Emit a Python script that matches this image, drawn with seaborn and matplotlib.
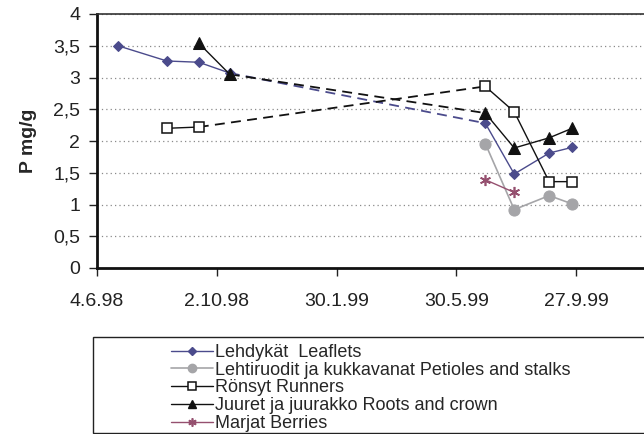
import matplotlib
matplotlib.use("Agg")
import matplotlib.pyplot as plt
import matplotlib.dates as mdates
from matplotlib.lines import Line2D
from matplotlib.patches import Rectangle
import pandas as pd
import seaborn as sns

# Sampling dates
dates_98 = ["1998-06-25", "1998-08-13", "1998-09-14", "1998-10-15"]
dates_99 = ["1999-06-28", "1999-07-27", "1999-08-31", "1999-09-23"]

# P content, mg/g
leaflets_98 = [3.50, 3.26, 3.24, 3.07]
leaflets_99 = [2.28, 1.48, 1.81, 1.90]
petioles_99 = [1.96, 0.92, 1.14, 1.01]
runners_98 = [2.20, 2.22]          # 13.8.98, 14.9.98
runners_99 = [2.86, 2.46, 1.36, 1.36]
roots_98 = [3.54, 3.05]            # 14.9.98, 15.10.98
roots_99 = [2.44, 1.89, 2.05, 2.20]
berries_99 = [1.39, 1.19]          # 28.6.99, 27.7.99

labels = [
    "Lehdykät  Leaflets",
    "Lehtiruodit ja kukkavanat Petioles and stalks",
    "Rönsyt Runners",
    "Juuret ja juurakko Roots and crown",
    "Marjat Berries",
]
x_ticks = ["1998-06-04", "1998-10-02", "1999-01-30", "1999-05-30", "1999-09-27"]
y_ticks = [0, 0.5, 1, 1.5, 2, 2.5, 3, 3.5, 4]
y_tick_labels = ["0", "0,5", "1", "1,5", "2", "2,5", "3", "3,5", "4"]

NAVY = "#4b4b8c"
GREY = "#a5a5a8"
BLACK = "#111111"
PLUM = "#95506f"

sns.set_style("white")
plt.rcParams["font.family"] = ["Liberation Sans", "DejaVu Sans"]

fig = plt.figure(figsize=(6.44, 4.34), dpi=100)
W, H = 644, 434
ax = fig.add_axes([97 / W, (H - 268) / H, (W - 97) / W, 254 / H])

styles = {
    "leaf": dict(color=NAVY, marker="D", markersize=5.5, markerfacecolor=NAVY,
                 markeredgecolor=NAVY, linewidth=1.0),
    "pet": dict(color=GREY, marker="o", markersize=8, markerfacecolor=GREY,
                markeredgecolor=GREY, linewidth=1.2),
    "run": dict(color=BLACK, marker="s", markersize=7.5, markerfacecolor="white",
                markeredgecolor=BLACK, markeredgewidth=1.1, linewidth=1.0),
    "root": dict(color=BLACK, marker="^", markersize=8.5, markerfacecolor=BLACK,
                 markeredgecolor=BLACK, linewidth=1.0),
    "berry": dict(color=PLUM, marker=(6, 2, 0), markersize=8, markeredgecolor=PLUM,
                  markeredgewidth=1.2, linewidth=1.0),
}
legend_marker_size = {"leaf": 4.5, "pet": 6, "run": 5.5, "root": 6, "berry": 6}


def solid(dates, vals, key, z=3):
    df = pd.DataFrame({"date": pd.to_datetime(dates), "P": vals})
    sns.lineplot(data=df, x="date", y="P", ax=ax, zorder=z, **styles[key])


def bridge(d0, v0, d1, v1, color):
    df = pd.DataFrame({"date": pd.to_datetime([d0, d1]), "P": [v0, v1]})
    sns.lineplot(data=df, x="date", y="P", ax=ax, color=color, linewidth=1.3,
                 dashes=False, linestyle=(0, (5.5, 3.5)), zorder=2)


# Dashed links across the winter gap
bridge(dates_98[-1], leaflets_98[-1], dates_99[0], leaflets_99[0], NAVY)
bridge(dates_98[2], runners_98[-1], dates_99[0], runners_99[0], BLACK)
bridge(dates_98[-1], roots_98[-1], dates_99[0], roots_99[0], BLACK)

solid(dates_98, leaflets_98, "leaf")
solid(dates_99, leaflets_99, "leaf")
solid(dates_99, petioles_99, "pet")
solid(dates_98[1:3], runners_98, "run", z=4)
solid(dates_99, runners_99, "run", z=4)
solid(dates_98[2:], roots_98, "root", z=5)
solid(dates_99, roots_99, "root", z=5)
solid(dates_99[:2], berries_99, "berry")

ax.set_xlim(pd.Timestamp("1998-06-04"), pd.Timestamp("1999-12-04"))
ax.set_ylim(0, 4)
ax.set_xticks(pd.to_datetime(x_ticks))
ax.xaxis.set_major_formatter(
    plt.FuncFormatter(lambda v, _: (lambda d: f"{d.day}.{d.month}.{d:%y}")(mdates.num2date(v))))
ax.set_yticks(y_ticks)
ax.set_yticklabels(y_tick_labels)
ax.tick_params(axis="both", labelsize=14, colors="#222222", length=6, width=1.0,
               direction="out", bottom=True, left=True)
ax.tick_params(axis="x", pad=12)
ax.tick_params(axis="y", pad=6)
ax.set_xlabel("")
ax.set_ylabel("P mg/g", fontsize=14, fontweight="bold", labelpad=12)

ax.yaxis.grid(True, linestyle=(0, (1, 2.5)), color="#8a8a8a", linewidth=0.9)
ax.xaxis.grid(False)
for side in ("left", "bottom"):
    ax.spines[side].set_color("#111111")
    ax.spines[side].set_linewidth(2.0)
ax.spines["top"].set_color("#333333")
ax.spines["top"].set_linewidth(1.2)
ax.spines["right"].set_visible(False)

# Legend box below the plot
fig.patches.append(Rectangle((93 / W, 1 / H), 1.0, 96 / H, transform=fig.transFigure,
                             facecolor="white", edgecolor="#222222", linewidth=1.0,
                             zorder=0))
handles = []
for k in ("leaf", "pet", "run", "root", "berry"):
    st = dict(styles[k])
    st["markersize"] = legend_marker_size[k]
    handles.append(Line2D([], [], **st))
fig.legend(handles, labels, loc="upper left", bbox_to_anchor=(171 / W, (H - 344) / H),
           frameon=False, fontsize=13, handlelength=2.3, handletextpad=0.15,
           labelspacing=0.04, borderpad=0, borderaxespad=0)

fig.savefig("out.png", dpi=100)
